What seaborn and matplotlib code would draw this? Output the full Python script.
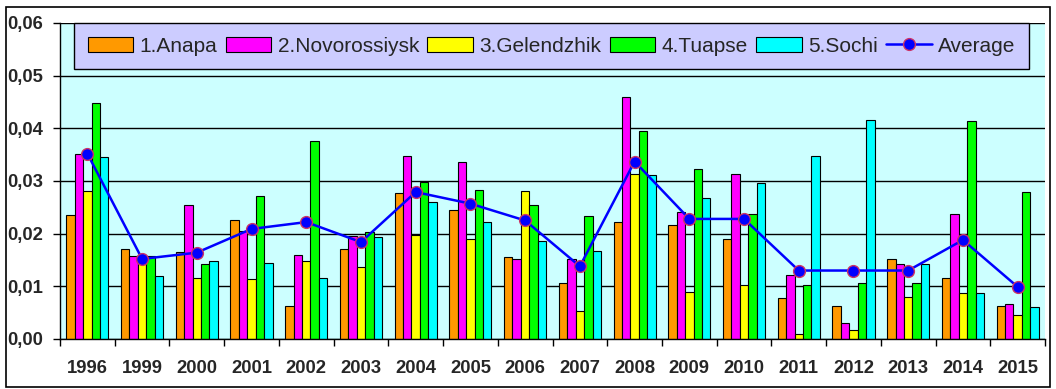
import pandas as pd
import numpy as np
import matplotlib
matplotlib.use('Agg')
import matplotlib.pyplot as plt
import seaborn as sns
from matplotlib.patches import Patch, Rectangle
from matplotlib.lines import Line2D
from matplotlib.ticker import FuncFormatter, FixedLocator

# data
years = ['1996', '1999', '2000', '2001', '2002', '2003', '2004', '2005', '2006',
         '2007', '2008', '2009', '2010', '2011', '2012', '2013', '2014', '2015']
anapa = [0.0235, 0.0171, 0.0165, 0.0226, 0.0062, 0.0171, 0.0277, 0.0245, 0.0156,
         0.0107, 0.0222, 0.0216, 0.0190, 0.0077, 0.0062, 0.0152, 0.0116, 0.0062]
novorossiysk = [0.0352, 0.0158, 0.0254, 0.0205, 0.0160, 0.0196, 0.0348, 0.0337, 0.0152,
                0.0152, 0.0460, 0.0241, 0.0314, 0.0122, 0.0031, 0.0143, 0.0237, 0.0067]
gelendzhik = [0.0281, 0.0155, 0.0116, 0.0114, 0.0148, 0.0136, 0.0197, 0.0190, 0.0281,
              0.0054, 0.0314, 0.0089, 0.0103, 0.0009, 0.0018, 0.0079, 0.0087, 0.0045]
tuapse = [0.0449, 0.0158, 0.0143, 0.0271, 0.0375, 0.0203, 0.0299, 0.0282, 0.0254,
          0.0233, 0.0394, 0.0322, 0.0237, 0.0103, 0.0107, 0.0107, 0.0414, 0.0279]
sochi = [0.0345, 0.0120, 0.0148, 0.0145, 0.0116, 0.0193, 0.0260, 0.0222, 0.0186,
         0.0167, 0.0311, 0.0267, 0.0297, 0.0348, 0.0416, 0.0143, 0.0088, 0.0060]
average = [0.0352, 0.0152, 0.0164, 0.0209, 0.0222, 0.0184, 0.0279, 0.0257, 0.0225,
           0.0138, 0.0337, 0.0228, 0.0228, 0.0130, 0.0130, 0.0130, 0.0188, 0.0099]

cities = ['1.Anapa', '2.Novorossiysk', '3.Gelendzhik', '4.Tuapse', '5.Sochi']
colors = ['#ff9900', '#ff00ff', '#ffff00', '#00ff00', '#00ffff']

df = pd.DataFrame({'year': years * 5,
                   'city': np.repeat(cities, len(years)),
                   'value': anapa + novorossiysk + gelendzhik + tuapse + sochi})

sns.set_style('white')
plt.rcParams['font.family'] = ['Liberation Sans', 'DejaVu Sans']

fig = plt.figure(figsize=(10.56, 3.89), dpi=100)
ax = fig.add_axes([60 / 1056, 1 - 339 / 389, 985 / 1056, 316 / 389])
ax.set_facecolor('#ccffff')

sns.barplot(data=df, x='year', y='value', hue='city', order=years, hue_order=cities,
            palette=colors, width=0.77, edgecolor='black', linewidth=0.8,
            saturation=1, legend=False, ax=ax, zorder=2)

sns.pointplot(x=years, y=average, order=years, color='#0000ff', markers='o',
              markersize=8.5, markeredgecolor='#cc3366', markeredgewidth=1.0,
              linewidth=1.8, ax=ax, zorder=5)

ax.set_ylim(0, 0.06)
ax.set_xlim(-0.5, len(years) - 0.5)
ax.set_yticks(np.arange(0, 0.061, 0.01))
ax.yaxis.set_major_formatter(FuncFormatter(lambda v, p: f'{v:.2f}'.replace('.', ',')))
ax.grid(axis='y', color='black', linewidth=1.0, zorder=0)
ax.set_axisbelow(True)
ax.set_xlabel('')
ax.set_ylabel('')

ax.xaxis.set_minor_locator(FixedLocator(np.arange(-0.5, len(years), 1)))
ax.tick_params(axis='x', which='major', length=0, pad=15)
ax.tick_params(axis='x', which='minor', length=5, width=1, color='black', direction='out', bottom=True)
ax.tick_params(axis='y', length=5, width=1, color='black', direction='out', left=True, pad=7)
for lab in ax.get_xticklabels() + ax.get_yticklabels():
    lab.set_fontsize(13.3)
    lab.set_fontweight('bold')

for s in ['top', 'right']:
    ax.spines[s].set_visible(False)
for s in ['left', 'bottom']:
    ax.spines[s].set_color('black')
    ax.spines[s].set_linewidth(1.0)

handles = [Patch(facecolor=c, edgecolor='black', linewidth=0.8) for c in colors]
handles.append(Line2D([], [], color='#0000ff', linewidth=1.8, marker='o', markersize=8.5,
                      markerfacecolor='#0000ff', markeredgecolor='#cc3366'))
leg = ax.legend(handles, cities + ['Average'], loc='upper left', ncol=6,
                bbox_to_anchor=(14 / 985, 0.0, 955 / 985, 1.0), mode='expand',
                fontsize=15, frameon=True, fancybox=False, framealpha=1,
                facecolor='#ccccff', edgecolor='black', handlelength=2.2,
                handleheight=0.7, handletextpad=0.3, columnspacing=0.6,
                borderpad=0.65, borderaxespad=0)
leg.get_frame().set_linewidth(1.0)
leg.set_zorder(10)

fig.patches.append(Rectangle((6 / 1056, 2 / 389), 1044 / 1056, 380 / 389,
                             transform=fig.transFigure, fill=False,
                             edgecolor='black', linewidth=1.2))

plt.savefig('out.png', dpi=100)
